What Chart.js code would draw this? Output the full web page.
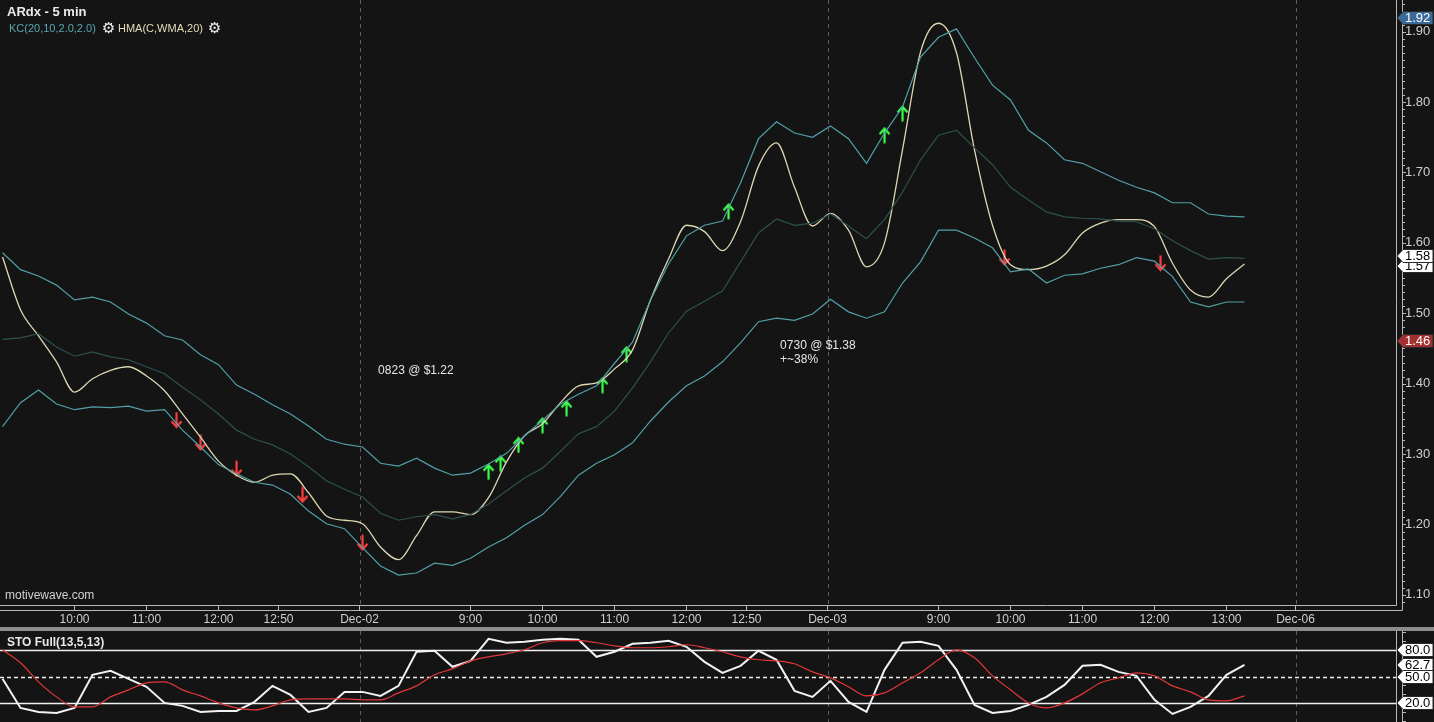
<!DOCTYPE html>
<html>
<head>
<meta charset="utf-8">
<title>ARdx - 5 min</title>
<script src="https://cdn.jsdelivr.net/npm/chart.js@4.4.1/dist/chart.umd.min.js"></script>
<style>
  html, body { margin: 0; padding: 0; background: #141414; }
  body { width: 1434px; height: 722px; position: relative; overflow: hidden; font-family: "Liberation Sans", Arial, sans-serif; }
  canvas { position: absolute; left: 0; }
  #mainChart { top: 0; }
  #stoChart { top: 631px; }
  #sep { position: absolute; left: 0; top: 627px; width: 1434px; height: 4px; background: #8c8c8c; }
  .txt { position: absolute; white-space: nowrap; line-height: normal; }
  #title { left: 7px; top: 4px; font-size: 13px; font-weight: bold; color: #ececec; }
  #kcLbl { left: 9px; top: 22px; font-size: 11px; color: #5aa7b1; }
  #hmaLbl { left: 118px; top: 22px; font-size: 11px; color: #e4ddb6; }
  .gear { font-family: "DejaVu Sans"; font-size: 15px; color: #f2f2f2; top: 19px; }
  #g1 { left: 102px; }
  #g2 { left: 208px; }
  #brand { left: 5px; top: 588px; font-size: 12px; color: #d2d2d2; }
  #stoLbl { left: 7px; top: 635px; font-size: 12px; font-weight: bold; color: #e8e8e8; }
</style>
</head>
<body>
<canvas id="mainChart" width="1434" height="627"></canvas>
<div id="sep"></div>
<canvas id="stoChart" width="1434" height="91"></canvas>
<div class="txt" id="title">ARdx - 5 min</div>
<div class="txt" id="kcLbl">KC(20,10,2.0,2.0)</div>
<div class="txt gear" id="g1">⚙</div>
<div class="txt" id="hmaLbl">HMA(C,WMA,20)</div>
<div class="txt gear" id="g2">⚙</div>
<div class="txt" id="brand">motivewave.com</div>
<div class="txt" id="stoLbl">STO Full(13,5,13)</div>
<script>
// bar index = 5-minute bars counted from Dec-01 07:30 (78 bars per session)
const barStart = 18;
const barStep = 3;
const xMin = 17.58;
const xMax = 250.25;
const yMin = 1.0856;
const yMax = 1.945;

const kcUpper = [1.586,1.562,1.553,1.540,1.519,1.523,1.516,1.499,1.486,1.468,
  1.462,1.441,1.427,1.398,1.385,1.370,1.357,1.340,1.321,1.314,
  1.310,1.287,1.283,1.294,1.280,1.270,
  1.273,1.286,1.301,1.326,1.348,1.371,1.385,1.397,1.429,1.459,
  1.519,1.570,1.610,1.625,1.631,1.685,1.748,1.772,1.756,1.750,
  1.766,1.748,1.713,1.756,
  1.793,1.864,1.892,1.904,1.863,1.824,1.803,1.760,1.742,1.718,
  1.713,1.701,1.689,1.679,1.671,1.657,1.657,1.641,1.638,1.637];

const kcMiddle = [1.463,1.465,1.471,1.452,1.439,1.445,1.438,1.434,1.424,1.414,
  1.395,1.377,1.357,1.334,1.321,1.313,1.300,1.282,1.262,1.250,
  1.239,1.216,1.206,1.211,1.214,1.208,
  1.214,1.229,1.248,1.266,1.280,1.304,1.329,1.339,1.361,1.394,
  1.431,1.472,1.503,1.517,1.532,1.573,1.614,1.634,1.625,1.628,
  1.641,1.624,1.606,1.633,
  1.672,1.718,1.753,1.760,1.735,1.711,1.679,1.661,1.644,1.637,
  1.635,1.634,1.631,1.630,1.620,1.603,1.589,1.577,1.579,1.578];

const kcLower = [1.339,1.373,1.391,1.371,1.363,1.367,1.366,1.368,1.361,1.363,
  1.334,1.310,1.285,1.272,1.260,1.256,1.243,1.219,1.201,1.194,
  1.167,1.141,1.128,1.131,1.145,1.142,
  1.152,1.168,1.181,1.199,1.214,1.240,1.270,1.287,1.299,1.316,
  1.347,1.374,1.397,1.411,1.431,1.458,1.488,1.493,1.490,1.499,
  1.520,1.502,1.493,1.502,
  1.543,1.573,1.618,1.618,1.607,1.593,1.559,1.563,1.543,1.554,
  1.556,1.564,1.569,1.579,1.574,1.552,1.516,1.509,1.516,1.516];

const hma = [1.580,1.505,1.468,1.431,1.388,1.407,1.419,1.424,1.411,1.390,
  1.357,1.324,1.290,1.270,1.260,1.270,1.272,1.245,1.212,1.206,
  1.201,1.168,1.150,1.184,1.218,1.218,
  1.214,1.238,1.289,1.326,1.343,1.373,1.397,1.401,1.421,1.448,
  1.519,1.577,1.625,1.616,1.589,1.630,1.709,1.742,1.679,1.624,
  1.642,1.618,1.566,1.600,
  1.732,1.871,1.912,1.870,1.732,1.625,1.569,1.562,1.567,1.583,
  1.614,1.628,1.633,1.633,1.623,1.571,1.533,1.523,1.549,1.570];

const stoK = [47.4,14.7,10.2,9.1,14.7,51.9,56.4,47.4,38.4,20.3,
  17.0,10.2,11.3,11.3,21.5,39.5,29.3,10.2,14.7,32.7,
  32.7,28.2,39.5,77.8,78.9,60.9,
  67.6,92.4,87.9,89.0,91.3,92.4,91.3,72.1,77.8,86.8,
  87.9,90.2,83.4,66.5,54.1,62.0,78.9,68.8,33.9,27.1,
  45.1,21.5,10.2,57.5,
  87.9,89.0,84.5,57.5,18.1,9.1,11.3,18.1,27.1,40.6,
  62.0,63.1,55.2,50.7,23.7,7.9,15.8,28.2,51.9,63.1];

const stoD = [80.0,65.4,44.0,27.1,15.8,15.8,27.1,35.0,42.9,44.0,
  35.0,28.2,20.3,14.7,12.5,17.0,23.7,24.8,24.8,24.8,
  23.7,23.7,31.6,39.5,51.9,58.6,
  67.6,72.1,75.5,80.0,87.9,90.2,90.2,87.9,84.5,82.3,
  82.3,83.4,85.7,82.3,77.8,72.1,68.8,67.6,64.3,55.2,
  48.5,38.4,28.2,31.6,
  42.9,54.1,68.8,80.0,71.0,50.7,35.0,20.3,14.7,20.3,
  30.5,42.9,48.5,54.1,50.7,39.5,32.7,23.7,22.6,28.2];

// signal arrows
const sellBars = [47, 51, 57, 68, 78, 185, 211];
const sellPrices = [1.348, 1.316, 1.279, 1.242, 1.174, 1.579, 1.571];
const buyBars = [99, 101, 104, 108, 112, 118, 122, 139, 165, 168];
const buyPrices = [1.275, 1.287, 1.313, 1.341, 1.365, 1.398, 1.442, 1.645, 1.753, 1.784];

// axis
const dayBreaks = [77.5, 155.5, 233.5];
const timeTicks = [30, 42, 54, 64, 77.5, 96, 108, 120, 132, 142, 155.5, 174, 186, 198, 210, 222, 233.5];
const timeLabels = ['10:00','11:00','12:00','12:50','Dec-02','9:00','10:00','11:00','12:00','12:50',
  'Dec-03','9:00','10:00','11:00','12:00','13:00','Dec-06'];
const priceTicks = [1.1, 1.2, 1.3, 1.4, 1.5, 1.6, 1.7, 1.8, 1.9];

// price flags on the right axis
const flagValues = [1.567, 1.581, 1.92, 1.46];
const flagBg = ['#ffffff', '#ffffff', '#3a6a98', '#a33030'];
const flagFg = ['#000000', '#000000', '#ffffff', '#ffffff'];

// text notes
const noteBars = [80.6, 147.6, 147.6];
const notePrices = [1.419, 1.454, 1.434];
const noteTexts = ['0823 @ $1.22', '0730 @ $1.38', '+~38%'];

// stochastic levels
const stoLevels = [80, 50, 20];
const stoFlags = [62.7, 80, 50, 20];

const FONT = '"Liberation Sans", Arial, sans-serif';

const pts = arr => arr.map((v, i) => ({ x: barStart + i * barStep, y: v }));

function arrowIcon(color, up) {
    const c = document.createElement('canvas');
    c.width = 13; c.height = 17;
    const g = c.getContext('2d');
    g.strokeStyle = color;
    g.lineWidth = 2.2;
    g.beginPath();
    if (up) {
        g.moveTo(6.5, 16.5); g.lineTo(6.5, 2);
        g.moveTo(1.5, 7.5); g.lineTo(6.5, 2); g.lineTo(11.5, 7.5);
    } else {
        g.moveTo(6.5, 0.5); g.lineTo(6.5, 15);
        g.moveTo(1.5, 9.5); g.lineTo(6.5, 15); g.lineTo(11.5, 9.5);
    }
    g.stroke();
    return c;
}

function drawFlag(ctx, py, text, bg, fg, right) {
    const x0 = right + 1, h = 13;
    ctx.beginPath();
    ctx.moveTo(x0, py);
    ctx.lineTo(x0 + 6, py - h / 2);
    ctx.lineTo(1433, py - h / 2);
    ctx.lineTo(1433, py + h / 2);
    ctx.lineTo(x0 + 6, py + h / 2);
    ctx.closePath();
    ctx.fillStyle = bg;
    ctx.fill();
    ctx.strokeStyle = '#2a2a2a';
    ctx.lineWidth = 1;
    ctx.stroke();
    ctx.fillStyle = fg;
    ctx.font = '13px ' + FONT;
    ctx.textAlign = 'left';
    ctx.textBaseline = 'middle';
    ctx.fillText(text, x0 + 8, py + 0.5);
}

function drawDayBreaks(chart, top, bottom) {
    const { ctx, scales: { x } } = chart;
    ctx.save();
    ctx.strokeStyle = '#5e5e5e';
    ctx.lineWidth = 1;
    ctx.setLineDash([4, 4]);
    dayBreaks.forEach(b => {
        const px = Math.round(x.getPixelForValue(b)) + 0.5;
        ctx.beginPath();
        ctx.moveTo(px, top);
        ctx.lineTo(px, bottom);
        ctx.stroke();
    });
    ctx.restore();
}

const mainDeco = {
    id: 'mainDeco',
    beforeDatasetsDraw(chart) {
        drawDayBreaks(chart, chart.chartArea.top, chart.chartArea.bottom);
    },
    afterDraw(chart) {
        const { ctx, chartArea: a, scales: { x, y } } = chart;
        ctx.save();
        ctx.strokeStyle = '#b8b8b8';
        ctx.lineWidth = 1;
        ctx.beginPath();
        ctx.moveTo(0, a.bottom + 0.5); ctx.lineTo(a.right + 0.5, a.bottom + 0.5); ctx.lineTo(a.right + 0.5, 0);
        ctx.moveTo(0, a.bottom + 5.5); ctx.lineTo(a.right + 6.5, a.bottom + 5.5); ctx.lineTo(a.right + 6.5, 0);
        for (let k = 109; k <= 194; k++) {
            const py = Math.round(y.getPixelForValue(k / 100)) + 0.5;
            ctx.moveTo(a.right + 6.5, py);
            ctx.lineTo(a.right + (k % 10 === 0 ? 10 : 9), py);
        }
        ctx.stroke();

        // notes
        ctx.fillStyle = '#e6e6e6';
        ctx.font = '12px ' + FONT;
        ctx.textAlign = 'left';
        ctx.textBaseline = 'middle';
        noteTexts.forEach((t, i) => {
            ctx.fillText(t, x.getPixelForValue(noteBars[i]), y.getPixelForValue(notePrices[i]));
        });

        // flags
        flagValues.forEach((v, i) => {
            drawFlag(ctx, Math.round(y.getPixelForValue(v)), v.toFixed(2), flagBg[i], flagFg[i], a.right);
        });
        ctx.restore();
    }
};

const stoDeco = {
    id: 'stoDeco',
    beforeDatasetsDraw(chart) {
        const { ctx, chartArea: a, scales: { y } } = chart;
        drawDayBreaks(chart, 0, chart.height);
        ctx.save();
        ctx.strokeStyle = '#f0f0f0';
        ctx.lineWidth = 1.3;
        stoLevels.forEach(l => {
            const py = Math.round(y.getPixelForValue(l)) + 0.5;
            ctx.setLineDash(l === 50 ? [4, 3] : []);
            ctx.beginPath();
            ctx.moveTo(a.left, py);
            ctx.lineTo(a.right, py);
            ctx.stroke();
        });
        ctx.restore();
    },
    afterDraw(chart) {
        const { ctx, chartArea: a, scales: { y } } = chart;
        ctx.save();
        ctx.strokeStyle = '#b8b8b8';
        ctx.lineWidth = 1;
        ctx.beginPath();
        ctx.moveTo(a.right + 0.5, 0); ctx.lineTo(a.right + 0.5, chart.height);
        ctx.moveTo(a.right + 6.5, 0); ctx.lineTo(a.right + 6.5, chart.height);
        for (let k = 0; k <= 100; k += 10) {
            const py = Math.round(y.getPixelForValue(k)) + 0.5;
            ctx.moveTo(a.right + 6.5, py);
            ctx.lineTo(a.right + 10, py);
        }
        ctx.stroke();
        stoFlags.forEach(v => {
            drawFlag(ctx, Math.round(y.getPixelForValue(v)), v.toFixed(1), '#ffffff', '#000000', a.right);
        });
        ctx.restore();
    }
};

new Chart(document.getElementById('mainChart'), {
    type: 'line',
    data: {
        datasets: [
            { data: pts(kcMiddle), borderColor: '#2e514f', borderWidth: 1.2, pointRadius: 0, tension: 0 },
            { data: pts(kcUpper), borderColor: '#51a0a8', borderWidth: 1.2, pointRadius: 0, tension: 0 },
            { data: pts(kcLower), borderColor: '#51a0a8', borderWidth: 1.2, pointRadius: 0, tension: 0 },
            { data: pts(hma), borderColor: '#ddd7b2', borderWidth: 1.3, pointRadius: 0, cubicInterpolationMode: 'monotone' },
            { data: sellBars.map((b, i) => ({ x: b, y: sellPrices[i] })), showLine: false,
              pointStyle: arrowIcon('#ff4040', false), pointRadius: 7 },
            { data: buyBars.map((b, i) => ({ x: b, y: buyPrices[i] })), showLine: false,
              pointStyle: arrowIcon('#3dff4a', true), pointRadius: 7 }
        ]
    },
    options: {
        responsive: false,
        animation: false,
        layout: { padding: 0, autoPadding: false },
        plugins: { legend: { display: false }, tooltip: { enabled: false } },
        scales: {
            x: {
                type: 'linear', position: 'bottom', min: xMin, max: xMax, bounds: 'data',
                afterFit: s => { s.height = 22; s.paddingLeft = 0; s.paddingRight = 0; },
                afterBuildTicks: s => { s.ticks = timeTicks.map(v => ({ value: v })); },
                ticks: {
                    autoSkip: false, maxRotation: 0, padding: 2, color: '#cfcfcf',
                    font: { size: 12, family: FONT },
                    callback: (v, i) => timeLabels[i]
                },
                grid: { drawOnChartArea: false, drawTicks: true, tickLength: 5, tickColor: '#bdbdbd' },
                border: { display: false }
            },
            y: {
                type: 'linear', position: 'right', min: yMin, max: yMax, bounds: 'data',
                afterFit: s => { s.width = 38; s.paddingTop = 0; s.paddingBottom = 0; },
                afterBuildTicks: s => { s.ticks = priceTicks.map(v => ({ value: v })); },
                ticks: {
                    padding: 9, color: '#cfcfcf', font: { size: 13, family: FONT },
                    callback: v => v.toFixed(2)
                },
                grid: { display: false, drawTicks: false },
                border: { display: false }
            }
        }
    },
    plugins: [mainDeco]
});

new Chart(document.getElementById('stoChart'), {
    type: 'line',
    data: {
        datasets: [
            { data: pts(stoD), borderColor: '#e23838', borderWidth: 1.2, pointRadius: 0, cubicInterpolationMode: 'monotone' },
            { data: pts(stoK), borderColor: '#f2f2f2', borderWidth: 2, pointRadius: 0, tension: 0 }
        ]
    },
    options: {
        responsive: false,
        animation: false,
        layout: { padding: { top: 1, bottom: 1, left: 0, right: 38 }, autoPadding: false },
        plugins: { legend: { display: false }, tooltip: { enabled: false } },
        scales: {
            x: { type: 'linear', display: false, min: xMin, max: xMax },
            y: { type: 'linear', display: false, min: 0, max: 100 }
        }
    },
    plugins: [stoDeco]
});
</script>
</body>
</html>
